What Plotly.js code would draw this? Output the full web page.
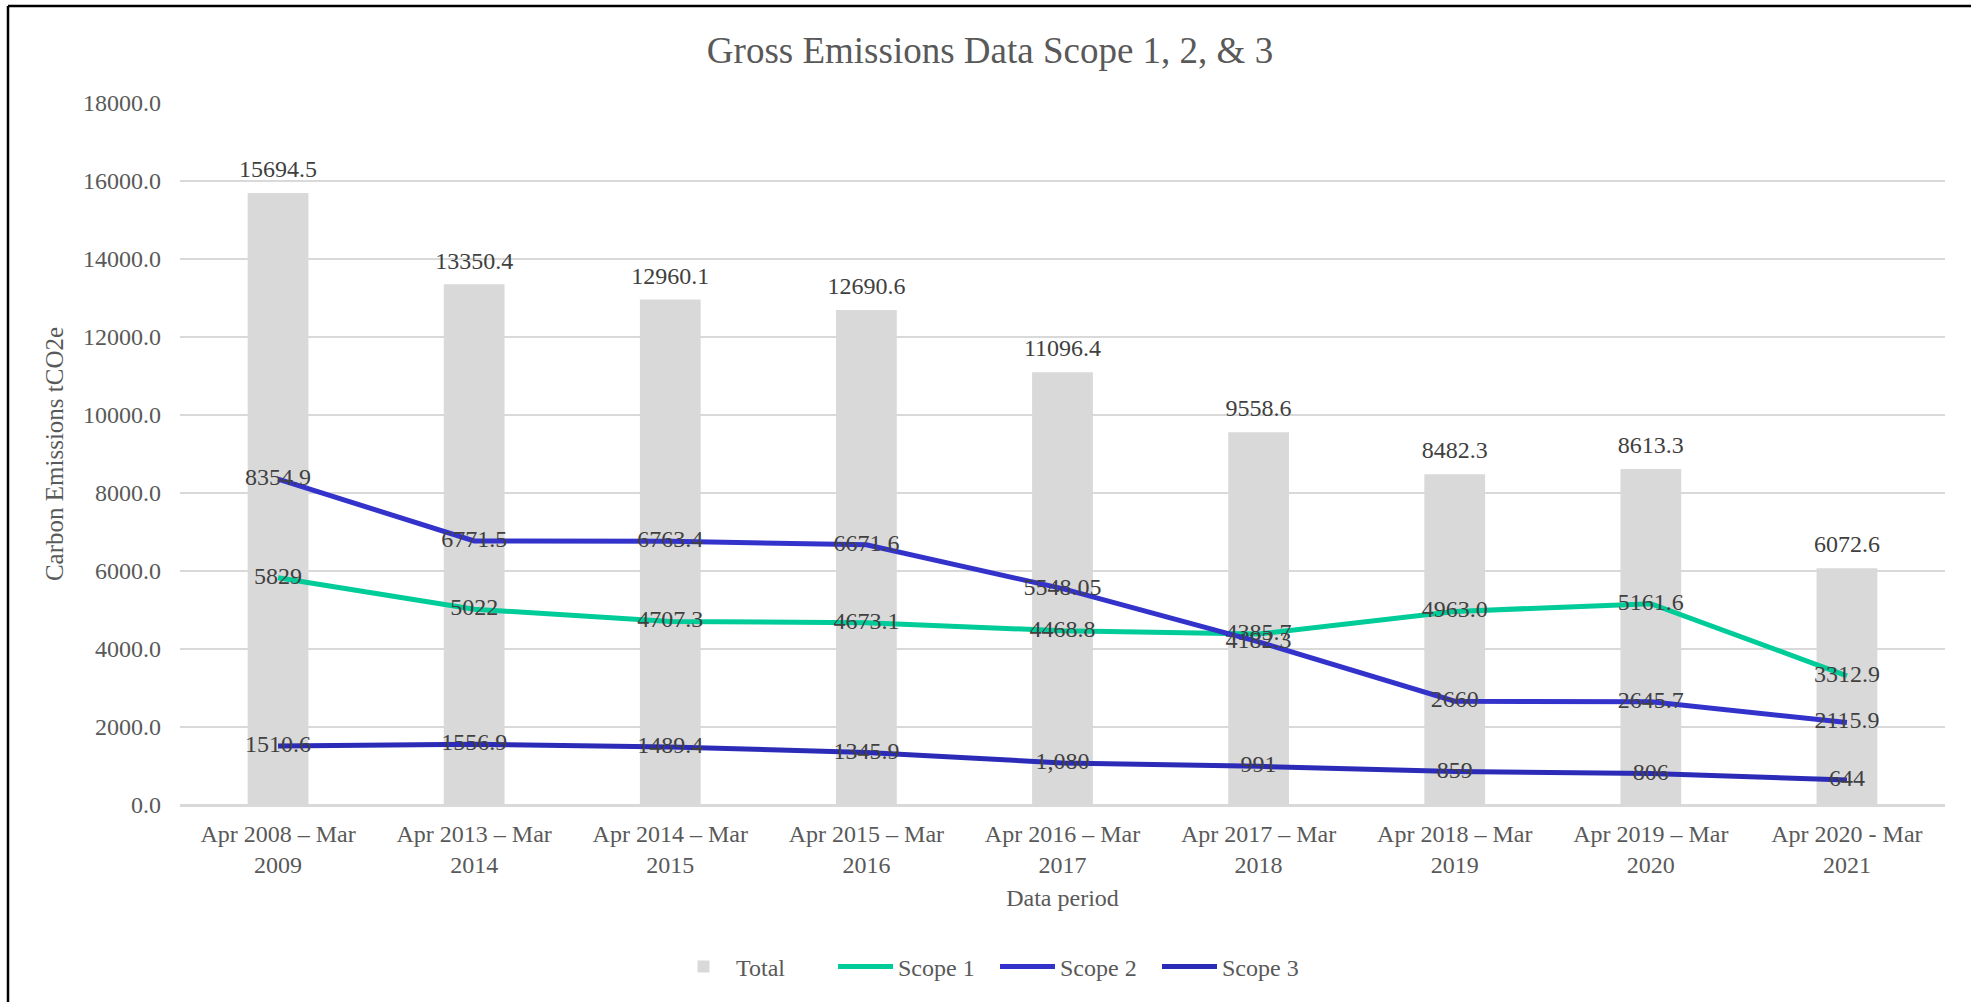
<!DOCTYPE html>
<html>
<head>
<meta charset="utf-8">
<script src="https://cdn.plot.ly/plotly-3.0.1.min.js"></script>
<style>
  html, body { margin: 0; padding: 0; background: #ffffff; }
  #chart { width: 1971px; height: 1002px; }
</style>
</head>
<body>
<div id="chart"></div>
<script>
// ---- Data ----
const categories = [
  "Apr 2008 – Mar<br>2009",
  "Apr 2013 – Mar<br>2014",
  "Apr 2014 – Mar<br>2015",
  "Apr 2015 – Mar<br>2016",
  "Apr 2016 – Mar<br>2017",
  "Apr 2017 – Mar<br>2018",
  "Apr 2018 – Mar<br>2019",
  "Apr 2019 – Mar<br>2020",
  "Apr 2020 - Mar<br>2021"
];
const totalValues  = [15694.5, 13350.4, 12960.1, 12690.6, 11096.4, 9558.6, 8482.3, 8613.3, 6072.6];
const totalLabels  = ["15694.5", "13350.4", "12960.1", "12690.6", "11096.4", "9558.6", "8482.3", "8613.3", "6072.6"];
const scope1Values = [5829, 5022, 4707.3, 4673.1, 4468.8, 4385.7, 4963.0, 5161.6, 3312.9];
const scope1Labels = ["5829", "5022", "4707.3", "4673.1", "4468.8", "4385.7", "4963.0", "5161.6", "3312.9"];
const scope2Values = [8354.9, 6771.5, 6763.4, 6671.6, 5548.05, 4182.3, 2660, 2645.7, 2115.9];
const scope2Labels = ["8354.9", "6771.5", "6763.4", "6671.6", "5548.05", "4182.3", "2660", "2645.7", "2115.9"];
const scope3Values = [1510.6, 1556.9, 1489.4, 1345.9, 1080, 991, 859, 806, 644];
const scope3Labels = ["1510.6", "1556.9", "1489.4", "1345.9", "1,080", "991", "859", "806", "644"];

// ---- Styles ----
const FONT = "Liberation Serif, Times New Roman, serif";
const labelFont = { family: FONT, size: 24, color: "#404040" };

const traces = [
  {
    type: "bar", name: "Total", x: categories, y: totalValues,
    marker: { color: "#d9d9d9" }, width: 0.31, hoverinfo: "x+y"
  },
  {
    type: "scatter", mode: "markers+text", x: categories, y: totalValues,
    text: totalLabels, textposition: "top center", textfont: labelFont,
    marker: { size: 14, opacity: 0 }, showlegend: false, hoverinfo: "skip"
  },
  {
    type: "scatter", mode: "lines+text", name: "Scope 1", x: categories, y: scope1Values,
    text: scope1Labels, textposition: "middle center", textfont: labelFont,
    line: { color: "#00cc99", width: 5 }
  },
  {
    type: "scatter", mode: "lines+text", name: "Scope 2", x: categories, y: scope2Values,
    text: scope2Labels, textposition: "middle center", textfont: labelFont,
    line: { color: "#3333cc", width: 5 }
  },
  {
    type: "scatter", mode: "lines+text", name: "Scope 3", x: categories, y: scope3Values,
    text: scope3Labels, textposition: "middle center", textfont: labelFont,
    line: { color: "#2b2bb8", width: 5 }
  }
];

const L = 180, R = 26, T = 103, B = 197;
const W = 1971, H = 1002;
const pw = W - L - R, ph = H - T - B;
const px = v => (v - L) / pw;
const py = v => (H - B - v) / ph;

const layout = {
  width: W, height: H,
  margin: { l: L, r: R, t: T, b: B, pad: 0 },
  paper_bgcolor: "#ffffff", plot_bgcolor: "#ffffff",
  font: { family: FONT, size: 24, color: "#595959" },
  title: {
    text: "Gross Emissions Data Scope 1, 2, & 3",
    font: { family: FONT, size: 37, color: "#595959" },
    xref: "container", x: 990 / W, xanchor: "center",
    yref: "container", y: 1 - 50 / H, yanchor: "middle"
  },
  xaxis: {
    type: "category",
    showgrid: false, showline: true, linecolor: "#d9d9d9", linewidth: 2,
    ticks: "", tickfont: { family: FONT, size: 24, color: "#595959" },
    ticklabelstandoff: 6,
    title: { text: "Data period", font: { family: FONT, size: 24, color: "#595959" }, standoff: 12 },
    automargin: false
  },
  yaxis: {
    range: [0, 18000], dtick: 2000, tickformat: ".1f",
    showgrid: true, gridcolor: "#d9d9d9", gridwidth: 2,
    zeroline: true, zerolinecolor: "#d9d9d9", zerolinewidth: 2,
    showline: false, ticks: "",
    tickfont: { family: FONT, size: 24, color: "#595959" },
    ticklabelstandoff: 18,
    title: { text: "Carbon Emissions tCO2e", font: { family: FONT, size: 25, color: "#595959" }, standoff: 12 },
    automargin: false
  },
  showlegend: true,
  legend: {
    orientation: "h", x: px(995), xanchor: "center",
    y: py(967), yanchor: "middle",
    font: { family: FONT, size: 24, color: "#595959" },
    traceorder: "normal", itemwidth: 55, entrywidth: 92, entrywidthmode: "pixels"
  },
  shapes: [
    { type: "line", xref: "paper", yref: "paper", x0: px(8), x1: px(1980), y0: py(6), y1: py(6),
      line: { color: "#000000", width: 2.5 } },
    { type: "line", xref: "paper", yref: "paper", x0: px(8), x1: px(8), y0: py(6), y1: py(1010),
      line: { color: "#000000", width: 2.5 } }
  ],
  bargap: 0.69
};

Plotly.newPlot("chart", traces, layout, { displayModeBar: false, staticPlot: true });
</script>
</body>
</html>
